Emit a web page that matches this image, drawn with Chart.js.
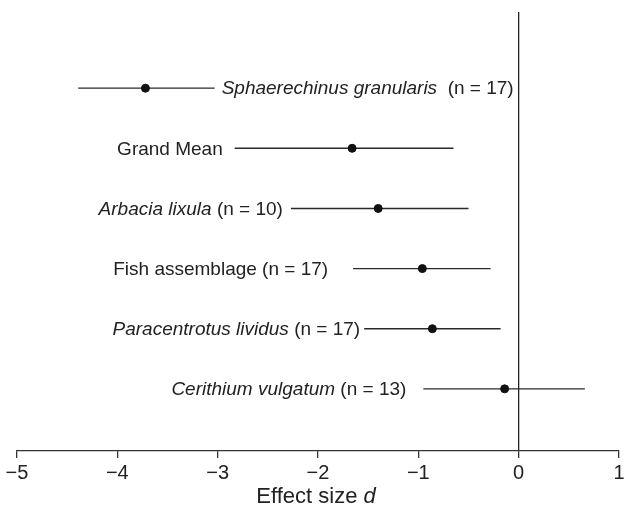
<!DOCTYPE html>
<html>
<head>
<meta charset="utf-8">
<title>Effect size d</title>
<script src="https://cdn.jsdelivr.net/npm/chart.js@4/dist/chart.umd.min.js"></script>
<style>
  html, body { margin: 0; padding: 0; background: #fff; }
  #chart-box { width: 624px; height: 511px; }
</style>
</head>
<body>
<div id="chart-box"><canvas id="my-chart"></canvas></div>
<script>
'use strict';

// ***** DATA *****

let groups = ['Sphaerechinus granularis', 'Grand Mean', 'Arbacia lixula', 'Fish assemblage', 'Paracentrotus lividus', 'Cerithium vulgatum'];
let sampleSizes = [17, null, 10, 17, 17, 13];
let italicName = [true, false, true, false, true, true];
let meanEffect = [-3.72, -1.66, -1.40, -0.96, -0.86, -0.14];
let lowerCI = [-4.39, -2.83, -2.27, -1.65, -1.54, -0.95];
let upperCI = [-3.03, -0.65, -0.50, -0.28, -0.18, 0.66];
let xTicks = [-5, -4, -3, -2, -1, 0, 1];

// ***** LABEL PLACEMENT (px gap from the bar end) *****

let labelSide = ['right', 'left', 'left', 'left', 'left', 'left'];
let labelGap = [7, 12, 8, 25, 4, 17];

let ink = '#222';
let labelFont = '19px "Liberation Sans", Arial, sans-serif';
let labelFontItalic = 'italic 19px "Liberation Sans", Arial, sans-serif';

// row 0 sits at the top
function rowY(i){
  return groups.length - i;
}

// ***** DATASETS *****

let datasets = [];

for(let i = 0; i < groups.length; i++){
  datasets.push({
    type: 'line',
    data: [{x: lowerCI[i], y: rowY(i)}, {x: upperCI[i], y: rowY(i)}],
    borderColor: '#2a2a2a',
    borderWidth: 1.4,
    pointRadius: 0,
    showLine: true,
    order: 2
  });
}

datasets.push({
  type: 'scatter',
  data: meanEffect.map((m, i) => ({x: m, y: rowY(i)})),
  backgroundColor: '#111',
  borderColor: '#111',
  pointRadius: 4,
  order: 1
});

// ***** LABEL PLUGIN *****

function labelParts(i){
  let parts = [];
  let tail = sampleSizes[i] === null ? '' : `(n = ${sampleSizes[i]})`;
  if(italicName[i]){
    parts.push({text: groups[i], italic: true});
    let sep = i === 0 ? '  ' : ' ';
    parts.push({text: sep + tail, italic: false});
  } else {
    parts.push({text: tail ? groups[i] + ' ' + tail : groups[i], italic: false});
  }
  return parts;
}

let rowLabels = {
  id: 'rowLabels',
  afterDatasetsDraw(chart){
    let ctx = chart.ctx;
    let xs = chart.scales.x;
    let ys = chart.scales.y;
    ctx.save();
    ctx.fillStyle = ink;
    ctx.textBaseline = 'middle';
    ctx.textAlign = 'left';
    for(let i = 0; i < groups.length; i++){
      let parts = labelParts(i);
      let widths = parts.map(p => {
        ctx.font = p.italic ? labelFontItalic : labelFont;
        return ctx.measureText(p.text).width;
      });
      let total = widths.reduce((a, b) => a + b, 0);
      let y = ys.getPixelForValue(rowY(i)) + 1;
      let x;
      if(labelSide[i] === 'right'){
        x = xs.getPixelForValue(upperCI[i]) + labelGap[i];
      } else {
        x = xs.getPixelForValue(lowerCI[i]) - labelGap[i] - total;
      }
      for(let j = 0; j < parts.length; j++){
        ctx.font = parts[j].italic ? labelFontItalic : labelFont;
        ctx.fillText(parts[j].text, x, y);
        x += widths[j];
      }
    }

    // axis title, mixed upright / italic
    let a = 'Effect size ';
    let b = 'd';
    ctx.font = '22px "Liberation Sans", Arial, sans-serif';
    let wa = ctx.measureText(a).width;
    ctx.font = 'italic 22px "Liberation Sans", Arial, sans-serif';
    let wb = ctx.measureText(b).width;
    let cx = (xs.left + xs.right) / 2 - 2;
    let tx = cx - (wa + wb) / 2;
    let ty = 497;
    ctx.font = '22px "Liberation Sans", Arial, sans-serif';
    ctx.fillText(a, tx, ty);
    ctx.font = 'italic 22px "Liberation Sans", Arial, sans-serif';
    ctx.fillText(b, tx + wa, ty);
    ctx.restore();
  }
};

// ***** CHART *****

let ctx = document.getElementById('my-chart').getContext('2d');

new Chart(ctx, {
  type: 'scatter',
  data: {datasets: datasets},
  options: {
    responsive: true,
    maintainAspectRatio: false,
    animation: false,
    events: [],
    layout: {
      padding: {top: 12, left: 17, right: 3, bottom: 23}
    },
    plugins: {
      legend: {display: false},
      tooltip: {enabled: false}
    },
    scales: {
      x: {
        type: 'linear',
        min: xTicks[0],
        max: xTicks[xTicks.length - 1],
        afterBuildTicks: (scale) => {
          scale.ticks = xTicks.map(v => ({value: v}));
        },
        afterFit: (scale) => {
          // let the layout padding decide the ends, not the end labels
          scale.paddingLeft = 0;
          scale.paddingRight = 0;
        },
        border: {display: true, color: '#333', width: 1.3},
        grid: {
          drawOnChartArea: true,
          drawTicks: true,
          tickLength: 7,
          lineWidth: 1.3,
          color: (c) => (c.tick && c.tick.value === 0 ? '#222' : 'rgba(0,0,0,0)'),
          tickColor: '#333'
        },
        ticks: {
          color: ink,
          padding: 3,
          font: {family: '"Liberation Sans", Arial, sans-serif', size: 20},
          maxRotation: 0,
          callback: (v) => (v < 0 ? '\u2212' + Math.abs(v) : String(v))
        }
      },
      y: {
        type: 'linear',
        display: false,
        min: 1 - 62 / 60,
        max: 1 - 62 / 60 + 438 / 60
      }
    }
  },
  plugins: [rowLabels]
});
</script>
</body>
</html>
